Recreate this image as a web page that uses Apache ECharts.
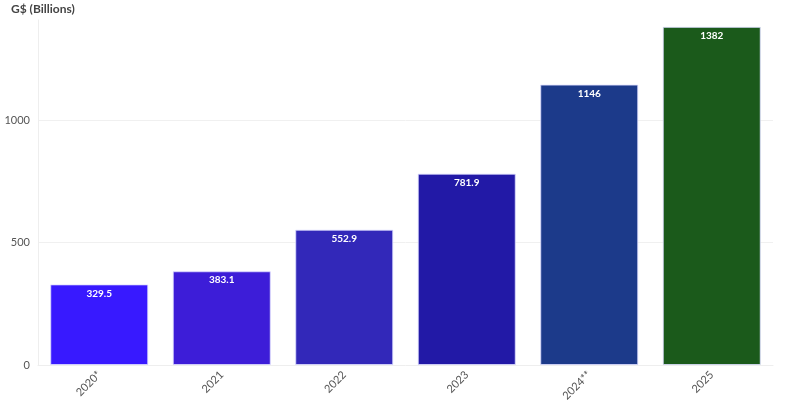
<!DOCTYPE html>
<html><head><meta charset="utf-8">
<script src="https://cdn.jsdelivr.net/npm/echarts@6/dist/echarts.min.js"></script>
<style>html,body{margin:0;padding:0;background:#fff}#c{width:790px;height:400px}</style>
</head><body><div id="c"></div>
<script>
const categories = ["2020*", "2021", "2022", "2023", "2024**", "2025"];
const values = [329.5, 383.1, 552.9, 781.9, 1146, 1382];
const barColors = ["#3819ff", "#3d1dd8", "#3228b9", "#2219a6", "#1c3a8a", "#1b5a1b"];
const yTicks = [0, 500, 1000];

const chart = echarts.init(document.getElementById('c'));
chart.setOption({
  animation: false,
  textStyle: { fontFamily: 'Lato, "Noto Sans", sans-serif' },
  title: {
    text: 'G$ (Billions)', left: 6, top: -2,
    textStyle: { fontSize: 12, fontWeight: 'bold', color: '#444', fontFamily: 'Lato, "Noto Sans", sans-serif' }
  },
  grid: { left: 38, right: 17, top: 20, bottom: 35, containLabel: false, outerBoundsMode: 'none' },
  xAxis: {
    type: 'category', data: categories,
    axisLine: { show: true, lineStyle: { color: '#eeeeee' } },
    axisTick: { show: false },
    axisLabel: { rotate: 45, color: '#555', fontSize: 11, margin: 8 }
  },
  yAxis: {
    type: 'value', min: 0, max: 1410, interval: 500,
    axisLine: { show: true, lineStyle: { color: '#eeeeee' } },
    axisTick: { show: false },
    axisLabel: { color: '#555', fontSize: 11, margin: 8, showMaxLabel: false,
      formatter: v => yTicks.includes(v) ? String(v) : '' },
    splitLine: { show: true, showMinLine: false, showMaxLine: false, lineStyle: { color: '#f0f0f0' } }
  },
  series: [{
    type: 'bar',
    data: values.map((v, i) => ({ value: v, itemStyle: { color: barColors[i] } })),
    barCategoryGap: '20%',
    itemStyle: { borderColor: 'rgba(220,220,255,0.8)', borderWidth: 1 },
    label: { show: true, position: 'insideTop', distance: 4, color: '#fff', fontSize: 10, fontWeight: 'bold' }
  }]
});
</script></body></html>
